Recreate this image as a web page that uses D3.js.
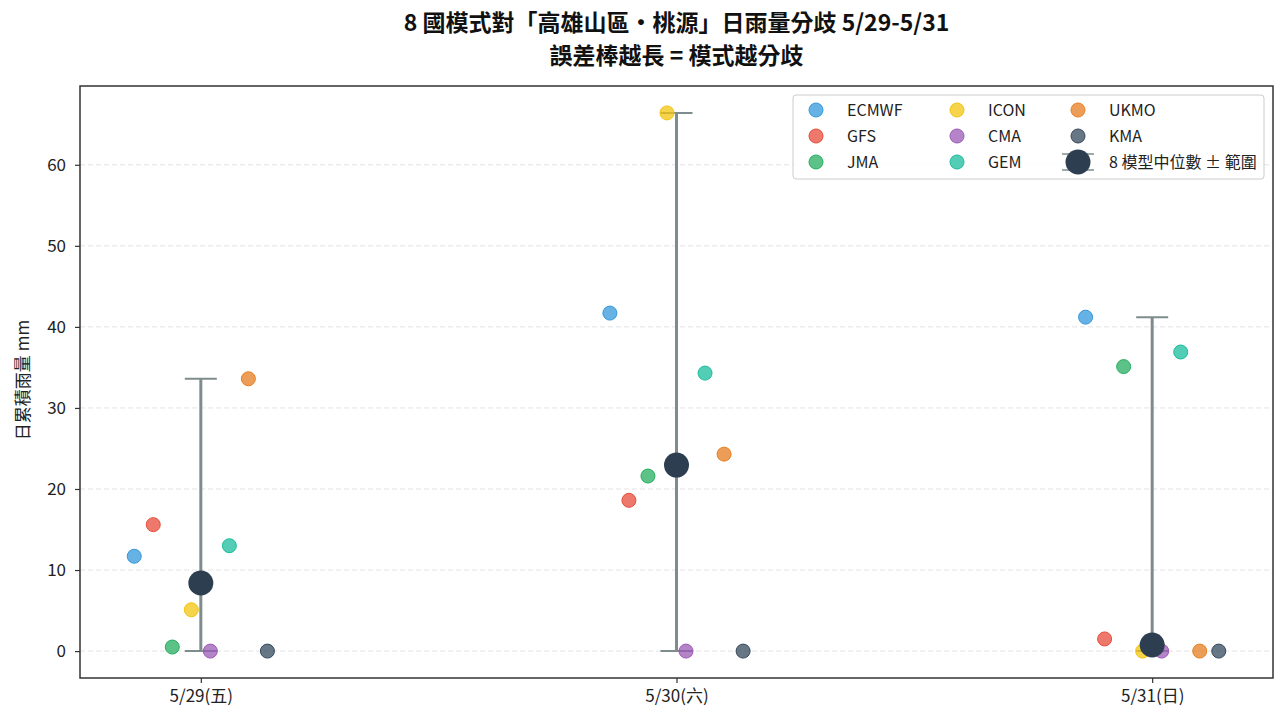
<!DOCTYPE html>
<html>
<head>
<meta charset="utf-8">
<script src="https://cdn.jsdelivr.net/npm/d3@7"></script>
<style>
  body { margin: 0; background: #fff; }
  svg { font-family: "Noto Sans CJK TC", "Noto Sans", sans-serif; }
</style>
</head>
<body>
<svg id="chart" width="1286" height="728"></svg>
<script>
// data
const days = ["5/29(五)", "5/30(六)", "5/31(日)"];
const models = ["ECMWF", "GFS", "JMA", "ICON", "CMA", "GEM", "UKMO", "KMA"];
const colors = ["#3498db", "#e74c3c", "#27ae60", "#f1c40f", "#9b59b6", "#1abc9c", "#e67e22", "#34495e"];
const ECMWF = [11.7, 41.7, 41.2];
const GFS   = [15.6, 18.6, 1.5];
const JMA   = [0.5, 21.6, 35.1];
const ICON  = [5.1, 66.4, 0];
const CMA   = [0, 0, 0];
const GEM   = [13.0, 34.3, 36.9];
const UKMO  = [33.6, 24.3, 0];
const KMA   = [0, 0, 0];
const series = [ECMWF, GFS, JMA, ICON, CMA, GEM, UKMO, KMA];
const yTicks = [0, 10, 20, 30, 40, 50, 60];

const FONT = '"Noto Sans CJK TC", "Noto Sans", sans-serif';
const svg = d3.select("#chart");
const margin = { left: 80, right: 13, top: 86, bottom: 50 };
const W = 1286, H = 728;
const plotW = W - margin.left - margin.right;
const plotH = H - margin.top - margin.bottom;

// per-day stats
const stats = days.map((d, i) => {
  const vals = series.map(s => s[i]);
  return { i, min: d3.min(vals), max: d3.max(vals), med: d3.median(vals) };
});

const jitter = 0.04; // offset between models
const xMin = -3.5 * jitter, xMax = days.length - 1 + 3.5 * jitter;
const xPad = (xMax - xMin) * 0.05;
const x = d3.scaleLinear().domain([xMin - xPad, xMax + xPad]).range([margin.left, margin.left + plotW]);

const allVals = series.flat();
const yLo = d3.min(allVals), yHi = d3.max(allVals);
const yPad = (yHi - yLo) * 0.05;
const y = d3.scaleLinear().domain([yLo - yPad, yHi + yPad]).range([margin.top + plotH, margin.top]);

// gridlines
svg.append("g").selectAll("line").data(yTicks).join("line")
  .attr("x1", margin.left).attr("x2", margin.left + plotW)
  .attr("y1", d => y(d)).attr("y2", d => y(d))
  .attr("stroke", "#e3e3e3").attr("stroke-width", 1).attr("stroke-dasharray", "5,3");

// axes
const yAxis = svg.append("g").attr("transform", `translate(${margin.left},0)`)
  .call(d3.axisLeft(y).tickValues(yTicks).tickSize(5).tickPadding(9));
const xAxis = svg.append("g").attr("transform", `translate(0,${margin.top + plotH})`)
  .call(d3.axisBottom(x).tickValues(d3.range(days.length)).tickFormat(i => days[i]).tickSize(5).tickPadding(7));
[yAxis, xAxis].forEach(g => {
  g.attr("font-family", FONT).attr("font-size", 17);
  g.select(".domain").remove();
  g.selectAll("line").attr("stroke", "#333").attr("stroke-width", 1.2);
  g.selectAll("text").attr("fill", "#222");
});

// error bars (min..max)
const bars = svg.append("g");
stats.forEach(s => {
  bars.append("line")
    .attr("x1", x(s.i)).attr("x2", x(s.i))
    .attr("y1", y(s.min)).attr("y2", y(s.max))
    .attr("stroke", "#7f8c8d").attr("stroke-width", 3);
  [s.min, s.max].forEach(v => {
    bars.append("line")
      .attr("x1", x(s.i) - 16).attr("x2", x(s.i) + 16)
      .attr("y1", y(v)).attr("y2", y(v))
      .attr("stroke", "#7f8c8d").attr("stroke-width", 2);
  });
});

// model points
models.forEach((m, k) => {
  svg.append("g").selectAll("circle").data(series[k]).join("circle")
    .attr("cx", (d, i) => x(i + (k - 3.5) * jitter))
    .attr("cy", d => y(d))
    .attr("r", 7)
    .attr("fill", colors[k]).attr("fill-opacity", 0.75)
    .attr("stroke", colors[k]).attr("stroke-width", 1);
});

// medians
svg.append("g").selectAll("circle").data(stats).join("circle")
  .attr("cx", d => x(d.i)).attr("cy", d => y(d.med))
  .attr("r", 12.5).attr("fill", "#2c3e50");

// frame
svg.append("rect")
  .attr("x", margin.left).attr("y", margin.top)
  .attr("width", plotW).attr("height", plotH)
  .attr("fill", "none").attr("stroke", "#333").attr("stroke-width", 1.5);

// title
svg.append("text").attr("x", margin.left + plotW / 2).attr("y", 31)
  .attr("text-anchor", "middle").style("font-size", "23px").style("font-weight", "bold").attr("fill", "#111")
  .text("8 國模式對「高雄山區·桃源」日雨量分歧 5/29-5/31");
svg.append("text").attr("x", margin.left + plotW / 2).attr("y", 64)
  .attr("text-anchor", "middle").style("font-size", "23px").style("font-weight", "bold").attr("fill", "#111")
  .text("誤差棒越長 = 模式越分歧");

// y label
svg.append("text")
  .attr("transform", `translate(29,${margin.top + plotH / 2 - 2}) rotate(-90)`)
  .attr("text-anchor", "middle").style("font-size", "17px").attr("fill", "#222")
  .text("日累積雨量 mm");

// legend
const lg = svg.append("g").attr("transform", "translate(793,95)");
lg.append("rect").attr("width", 471).attr("height", 84).attr("rx", 3)
  .attr("fill", "#fff").attr("fill-opacity", 0.85).attr("stroke", "#ccc");
const colX = [23, 164, 285];
const rowY = [15, 41, 67];
models.forEach((m, k) => {
  const c = Math.floor(k / 3), r = k % 3;
  lg.append("circle").attr("cx", colX[c]).attr("cy", rowY[r]).attr("r", 7)
    .attr("fill", colors[k]).attr("fill-opacity", 0.75).attr("stroke", colors[k]);
  lg.append("text").attr("x", colX[c] + 31).attr("y", rowY[r] + 6)
    .style("font-size", "16px").attr("fill", "#222").text(m);
});
// median legend entry
const mx = colX[2], my = rowY[2];
lg.append("line").attr("x1", mx).attr("x2", mx).attr("y1", my - 8).attr("y2", my + 8)
  .attr("stroke", "#7f8c8d").attr("stroke-width", 2);
[my - 8, my + 8].forEach(v => lg.append("line").attr("x1", mx - 16).attr("x2", mx + 16)
  .attr("y1", v).attr("y2", v).attr("stroke", "#7f8c8d").attr("stroke-width", 1.5));
lg.append("circle").attr("cx", mx).attr("cy", my).attr("r", 12.5).attr("fill", "#2c3e50");
lg.append("text").attr("x", mx + 31).attr("y", my + 6)
  .style("font-size", "16px").attr("fill", "#222").text("8 模型中位數 ± 範圍");
</script>
</body>
</html>
